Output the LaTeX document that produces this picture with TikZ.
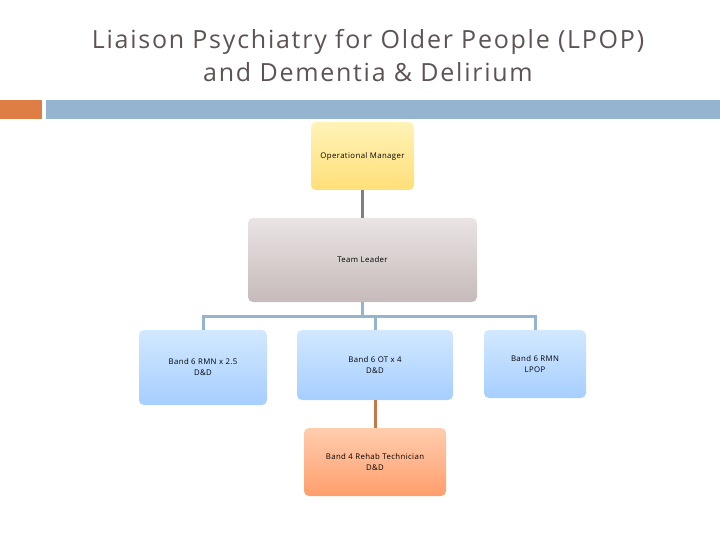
\documentclass[tikz,border=0pt]{standalone}
\usepackage{fontspec}
\setmainfont{Open Sans}
\usetikzlibrary{positioning}

\definecolor{titlegray}{HTML}{5E5252}
\definecolor{barorange}{HTML}{DE7E45}
\definecolor{barblue}{HTML}{94B4D0}
\definecolor{linegray}{HTML}{808080}
\definecolor{lineorange}{HTML}{C87848}
\definecolor{yellowtop}{HTML}{FFF3B8}
\definecolor{yellowbot}{HTML}{FFDF78}
\definecolor{greytop}{HTML}{EAE4E4}
\definecolor{greybot}{HTML}{C6BABA}
\definecolor{bluetop}{HTML}{D2E8FF}
\definecolor{bluebot}{HTML}{A6CEFF}
\definecolor{peachtop}{HTML}{FFCDAE}
\definecolor{peachbot}{HTML}{FF9E6C}

\begin{document}
\begin{tikzpicture}[x=1pt,y=-1pt]
\tikzstyle{every node}=[font=\addfontfeatures{LetterSpace=5}\fontsize{7.8}{11}\selectfont,align=center]
\tikzstyle{box}=[rounded corners=5pt,inner sep=0pt]
\tikzstyle{yellowbox}=[box,top color=yellowtop,bottom color=yellowbot]
\tikzstyle{greybox}=[box,top color=greytop,bottom color=greybot]
\tikzstyle{bluebox}=[box,top color=bluetop,bottom color=bluebot]
\tikzstyle{peachbox}=[box,top color=peachtop,bottom color=peachbot]
\tikzstyle{link}=[line width=3pt]
    \useasboundingbox (0,0) rectangle (720,540);

    % heading and bars
    \node (Title) [font=\addfontfeatures{LetterSpace=7}\fontsize{25}{33}\selectfont,text=titlegray] at (368,56)
      {Liaison Psychiatry for Older People (LPOP)\\and Dementia \& Delirium};
    \fill[barorange] (0,100) rectangle (42,119);
    \fill[barblue] (46,100) rectangle (720,119);

    % boxes
    \node (OM) [yellowbox,minimum width=103pt,minimum height=68pt] at (362.5,156) {Operational Manager};
    \node (TL) [greybox,minimum width=229pt,minimum height=84pt] at (362.5,260) {Team Leader};
    \node (RMN) [bluebox,minimum width=128pt,minimum height=75pt] at (203,367.5) {Band 6 RMN x 2.5\\D\&D};
    \node (OT) [bluebox,minimum width=156pt,minimum height=70pt] at (375,365) {Band 6 OT x 4\\D\&D};
    \node (LPOP) [bluebox,minimum width=102pt,minimum height=68pt] at (535,364) {Band 6 RMN\\LPOP};
    \node (Tech) [peachbox,minimum width=142pt,minimum height=68pt] at (375,462) {Band 4 Rehab Technician\\D\&D};

    % connectors
    \coordinate (Split) at (362.5,316);
    \draw[link,linegray] (OM) -- (TL);
    \draw[link,barblue] (TL) -- (Split);
    \draw[link,barblue] (RMN.north) |- (Split) -| (LPOP.north);
    \draw[link,barblue] (OT.north) -- (OT.north |- Split);
    \draw[link,lineorange] (OT) -- (Tech);

\end{tikzpicture}
\end{document}
